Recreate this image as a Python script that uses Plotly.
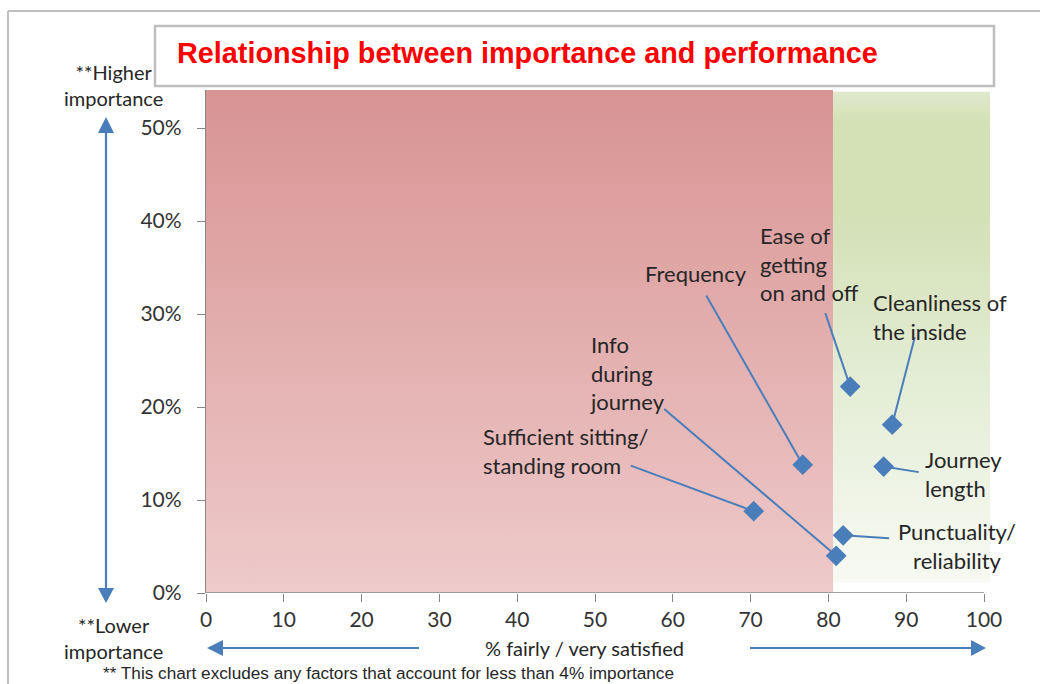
import plotly.graph_objects as go

# ---------------- data ----------------
factors = ["Sufficient sitting/<br>standing room", "Info<br>during<br>journey", "Frequency",
           "Ease of<br>getting<br>on and off", "Cleanliness of<br>the inside",
           "Journey<br>length", "Punctuality/<br>reliability"]
satisfaction = [70.4, 81.0, 76.7, 82.8, 88.2, 87.1, 81.9]          # % fairly / very satisfied
importance = [0.088, 0.040, 0.138, 0.222, 0.181, 0.136, 0.062]     # importance share

x_ticks = [0, 10, 20, 30, 40, 50, 60, 70, 80, 90, 100]
y_ticks = [0, 0.1, 0.2, 0.3, 0.4, 0.5]
zone_split = 80.6          # satisfaction threshold between zones
zone_top = 0.541

# ---------------- layout helpers (pixel -> paper) ----------------
W, H = 1040, 684
PL, PR, PT, PB = 206, 990, 90, 593
def px(x):
    return (x - PL) / (PR - PL)
def py(y):
    return (PB - y) / (PB - PT)

# label placement (data units): (x, y, xanchor, align), line start (x, y)
label_pos = [
    (35.35, 0.153, "left", "left", 54.6, 0.137),
    (49.1, 0.237, "left", "left", 58.9, 0.198),
    (63.0, 0.344, "center", "center", 64.3, 0.320),
    (71.0, 0.354, "left", "left", 79.6, 0.301),
    (85.5, 0.297, "left", "left", 91.1, 0.275),
    (92.2, 0.128, "left", "left", 91.6, 0.130),
    (96.5, 0.051, "center", "center", 87.8, 0.059),
]

BLUE = "#4a7ebb"
AXC = "#868686"
TXT = "#262626"
FONT = "Lato"

fig = go.Figure()

# background zones with vertical gradients
fig.add_trace(go.Scatter(
    x=[0, zone_split, zone_split, 0, 0], y=[0, 0, zone_top, zone_top, 0],
    fill="toself", mode="lines", line=dict(width=0), hoverinfo="skip", showlegend=False,
    fillgradient=dict(type="vertical",
                      colorscale=[[0, "#eecaca"], [1, "#d89393"]])))
fig.add_trace(go.Scatter(
    x=[zone_split, 100.77, 100.77, zone_split, zone_split],
    y=[0.011, 0.011, zone_top - 0.002, zone_top - 0.002, 0.011],
    fill="toself", mode="lines", line=dict(width=0), hoverinfo="skip", showlegend=False,
    fillgradient=dict(type="vertical",
                      colorscale=[[0, "#f8faf3"], [0.4, "#e4edd6"], [0.75, "#d4e0b6"],
                                  [0.94, "#d4e0b5"], [1, "#e0e8cc"]])))

shapes = []
annotations = []

# leader lines
for (lx, ly, xa, al, sx, sy), xv, yv in zip(label_pos, satisfaction, importance):
    shapes.append(dict(type="line", xref="x", yref="y", x0=sx, y0=sy, x1=xv, y1=yv,
                       line=dict(color=BLUE, width=2), layer="above"))

# points
fig.add_trace(go.Scatter(
    x=satisfaction, y=importance, mode="markers",
    marker=dict(symbol="diamond", size=16, color=BLUE, line=dict(width=0)),
    showlegend=False, hoverinfo="skip"))

# labels
for (lx, ly, xa, al, sx, sy), name in zip(label_pos, factors):
    annotations.append(dict(x=lx, y=ly, xref="x", yref="y", text=name, showarrow=False,
                            xanchor=xa, yanchor="middle", align=al,
                            font=dict(family=FONT, size=22, color=TXT)))

# x axis line
shapes.append(dict(type="line", xref="x", yref="y", x0=0, y0=0, x1=100, y1=0,
                   line=dict(color=AXC, width=1.3), layer="above"))

# outer border (top and left)
shapes.append(dict(type="line", xref="paper", yref="paper", x0=px(8), y0=py(11), x1=px(1040), y1=py(11),
                   line=dict(color="#bfbfbf", width=2)))
shapes.append(dict(type="line", xref="paper", yref="paper", x0=px(8), y0=py(11), x1=px(8), y1=py(684),
                   line=dict(color="#bfbfbf", width=2)))

# title box
shapes.append(dict(type="rect", xref="paper", yref="paper", x0=px(155), y0=py(26), x1=px(994), y1=py(86),
                   line=dict(color="#bfbfbf", width=2.5), fillcolor="white"))
annotations.append(dict(x=px(175), y=py(53), xref="paper", yref="paper",
                        text="<b>Relationship between importance and performance</b>",
                        showarrow=False, xanchor="left", yanchor="middle",
                        font=dict(family="Liberation Sans", size=28.8, color="#ff0000")))

# vertical double arrow
shapes.append(dict(type="line", xref="paper", yref="paper", x0=px(106), y0=py(130), x1=px(106), y1=py(590),
                   line=dict(color=BLUE, width=2.2)))
shapes.append(dict(type="path", xref="paper", yref="paper",
                   path=f"M {px(106)},{py(117)} L {px(98)},{py(133)} L {px(114)},{py(133)} Z",
                   fillcolor=BLUE, line=dict(width=0)))
shapes.append(dict(type="path", xref="paper", yref="paper",
                   path=f"M {px(106)},{py(603)} L {px(98)},{py(588)} L {px(114)},{py(588)} Z",
                   fillcolor=BLUE, line=dict(width=0)))

# horizontal arrows
shapes.append(dict(type="line", xref="paper", yref="paper", x0=px(220), y0=py(648), x1=px(419), y1=py(648),
                   line=dict(color=BLUE, width=2.2)))
shapes.append(dict(type="path", xref="paper", yref="paper",
                   path=f"M {px(207)},{py(648)} L {px(223)},{py(640)} L {px(223)},{py(656)} Z",
                   fillcolor=BLUE, line=dict(width=0)))
shapes.append(dict(type="line", xref="paper", yref="paper", x0=px(750), y0=py(648), x1=px(974), y1=py(648),
                   line=dict(color=BLUE, width=2.2)))
shapes.append(dict(type="path", xref="paper", yref="paper",
                   path=f"M {px(986)},{py(648)} L {px(971)},{py(640)} L {px(971)},{py(656)} Z",
                   fillcolor=BLUE, line=dict(width=0)))

# side texts
side_font = dict(family=FONT, size=20, color=TXT)
annotations.append(dict(x=px(113), y=py(85), xref="paper", yref="paper", text="**Higher<br>importance",
                        showarrow=False, xanchor="center", yanchor="middle", align="center", font=side_font))
annotations.append(dict(x=px(113), y=py(638), xref="paper", yref="paper", text="**Lower<br>importance",
                        showarrow=False, xanchor="center", yanchor="middle", align="center", font=side_font))
annotations.append(dict(x=px(584), y=py(648), xref="paper", yref="paper", text="% fairly / very satisfied",
                        showarrow=False, xanchor="center", yanchor="middle", font=side_font))
annotations.append(dict(x=px(388), y=py(673), xref="paper", yref="paper",
                        text="** This chart excludes any factors that account for less than 4% importance",
                        showarrow=False, xanchor="center", yanchor="middle",
                        font=dict(family="Liberation Sans", size=17.2, color=TXT)))

fig.update_layout(
    width=W, height=H,
    margin=dict(l=PL, r=W - PR, t=PT, b=H - PB, pad=0),
    paper_bgcolor="white", plot_bgcolor="white",
    shapes=shapes, annotations=annotations, showlegend=False,
    xaxis=dict(range=[0, 100.77], tickvals=x_ticks, ticktext=[str(v) for v in x_ticks],
               showgrid=False, zeroline=False, showline=False,
               ticks="outside", ticklen=8, tickcolor=AXC, tickwidth=1.3,
               tickfont=dict(family=FONT, size=21, color="#333333")),
    yaxis=dict(range=[0, zone_top], tickvals=y_ticks, tickformat=".0%",
               showgrid=False, zeroline=False, showline=True, linecolor=AXC, linewidth=1.3,
               ticks="outside", ticklen=8, tickcolor=AXC, tickwidth=1.3,
               ticklabelstandoff=11,
               tickfont=dict(family=FONT, size=21, color="#333333")),
)

fig.write_html("out.html", config={"displayModeBar": False},
               post_script="document.body.style.margin='0';document.body.style.overflow='hidden';")
